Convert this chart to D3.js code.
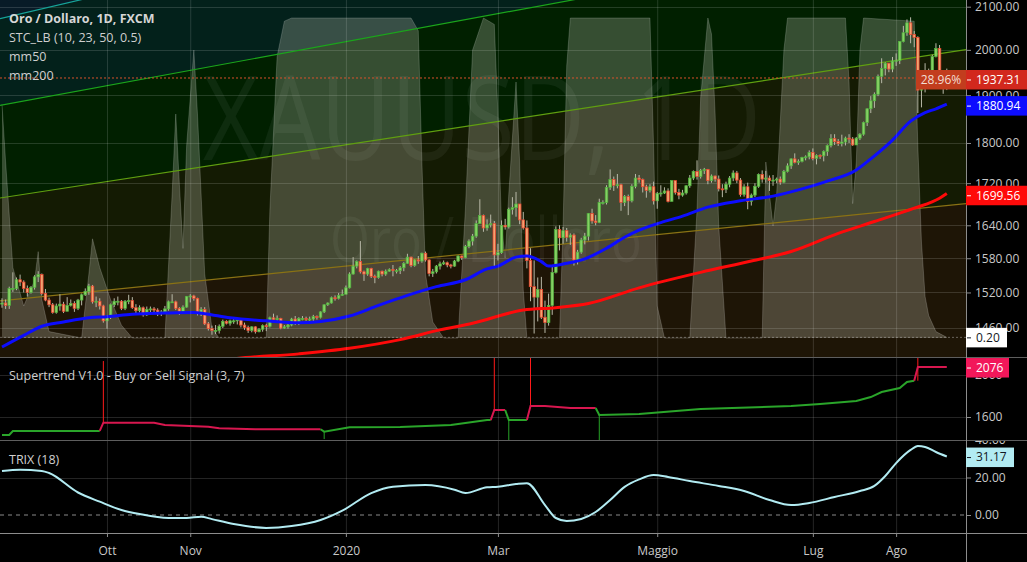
<!DOCTYPE html>
<html>
<head>
<meta charset="utf-8">
<script src="https://cdn.jsdelivr.net/npm/d3@7"></script>
<style>
  body { margin: 0; background: #000; }
  svg { display: block; font-family: 'Open Sans', sans-serif; }
</style>
</head>
<body>
<svg id="chart" width="1027" height="562"></svg>
<script>
// ---------- data ----------
const holidays = ['2020-01-01']
const firstOpen = 1500

const close = [
  1502, 1498, 1527, 1527, 1542, 1538, 1527, 1520,
  1529, 1547, 1551, 1518, 1507, 1499, 1486, 1497, 1500, 1488, 1498, 1501, 1493, 1507, 1516, 1522, 1531, 1504, 1505, 1497, 1472,
  1479, 1499, 1505, 1505, 1493, 1505, 1506, 1494, 1489, 1494, 1482, 1491, 1492, 1490, 1484, 1487, 1492, 1504, 1504, 1493, 1488, 1495, 1513,
  1514, 1510, 1484, 1491, 1467, 1459, 1456, 1456, 1463, 1471, 1468, 1472, 1472, 1474, 1465, 1461, 1456, 1462, 1454, 1458, 1464,
  1463, 1477, 1474, 1476, 1460, 1462, 1465, 1475, 1469, 1476, 1476, 1475, 1475, 1479, 1478, 1487, 1499, 1502, 1511, 1510, 1515, 1517,
  1528, 1552, 1566, 1574, 1556, 1552, 1562, 1548, 1546, 1557, 1552, 1557, 1560, 1558, 1558, 1563, 1571, 1582, 1567, 1577, 1575, 1589,
  1577, 1553, 1556, 1566, 1570, 1572, 1568, 1566, 1575, 1584, 1581, 1601, 1611, 1620, 1643, 1658, 1635, 1641, 1643, 1586,
  1590, 1640, 1637, 1670, 1673, 1680, 1650, 1635, 1576, 1530, 1512, 1525, 1478, 1469, 1498, 1555, 1632, 1617, 1630, 1618, 1622, 1577,
  1591, 1613, 1620, 1662, 1648, 1645, 1683, 1683, 1712, 1727, 1716, 1717, 1683, 1694, 1686, 1714, 1730, 1727, 1713, 1706, 1713, 1686,
  1700, 1701, 1705, 1685, 1725, 1702, 1697, 1701, 1715, 1730, 1743, 1733, 1745, 1747, 1725, 1734, 1728, 1709, 1708, 1718, 1730,
  1740, 1726, 1698, 1713, 1685, 1697, 1714, 1737, 1728, 1730, 1725, 1726, 1728, 1722, 1743, 1754, 1768, 1761, 1763, 1771, 1772, 1781,
  1769, 1775, 1774, 1783, 1795, 1809, 1803, 1799, 1802, 1810, 1808, 1796, 1810, 1818, 1842, 1871, 1888, 1902, 1941, 1958, 1970, 1957, 1975,
  1976, 2019, 2039, 2062, 2035, 2028, 1911, 1915, 1954, 1944, 1985, 2003, 1929, 1946, 1937
]
const high = [
  1510, 1508, 1530, 1555, 1546, 1551, 1541, 1532,
  1531, 1550, 1557, 1553, 1526, 1511, 1502, 1501, 1517, 1504, 1512, 1508, 1505, 1509, 1518, 1527, 1535, 1533, 1513, 1510, 1499,
  1481, 1501, 1510, 1513, 1507, 1507, 1516, 1512, 1500, 1498, 1496, 1496, 1496, 1495, 1493, 1490, 1497, 1506, 1517, 1506, 1495, 1498, 1514,
  1517, 1516, 1511, 1495, 1495, 1470, 1464, 1465, 1466, 1474, 1473, 1474, 1476, 1477, 1475, 1469, 1464, 1463, 1463, 1460, 1466,
  1467, 1479, 1484, 1481, 1477, 1465, 1468, 1477, 1480, 1478, 1480, 1479, 1479, 1482, 1481, 1488, 1500, 1503, 1513, 1515, 1519, 1525,
  1532, 1555, 1582, 1576, 1611, 1558, 1563, 1563, 1551, 1558, 1558, 1560, 1562, 1568, 1561, 1566, 1573, 1588, 1583, 1578, 1584, 1590,
  1592, 1578, 1561, 1568, 1574, 1576, 1574, 1570, 1577, 1585, 1585, 1604, 1614, 1624, 1649, 1689, 1660, 1651, 1660, 1648,
  1606, 1649, 1652, 1673, 1693, 1703, 1675, 1665, 1649, 1598, 1576, 1546, 1547, 1506, 1518, 1567, 1638, 1640, 1637, 1635, 1625, 1625,
  1595, 1617, 1626, 1663, 1671, 1659, 1690, 1687, 1716, 1747, 1733, 1738, 1719, 1697, 1698, 1718, 1738, 1736, 1729, 1717, 1718, 1723,
  1703, 1716, 1712, 1710, 1725, 1722, 1709, 1707, 1716, 1736, 1745, 1765, 1748, 1750, 1748, 1737, 1735, 1735, 1718, 1723, 1734,
  1745, 1744, 1730, 1718, 1721, 1700, 1720, 1739, 1745, 1744, 1735, 1736, 1731, 1733, 1746, 1759, 1769, 1779, 1767, 1772, 1775, 1785,
  1789, 1777, 1777, 1785, 1797, 1818, 1818, 1808, 1817, 1813, 1818, 1812, 1812, 1820, 1844, 1872, 1898, 1906, 1945, 1981, 1972, 1970, 1984,
  1992, 2020, 2055, 2070, 2075, 2043, 2031, 1923, 1970, 1958, 1989, 2015, 2011, 1949, 1958
]
const low = [
  1494, 1492, 1492, 1521, 1524, 1531, 1520, 1513,
  1518, 1525, 1538, 1515, 1505, 1495, 1484, 1484, 1489, 1485, 1488, 1496, 1487, 1490, 1498, 1514, 1516, 1501, 1495, 1491, 1469,
  1459, 1475, 1495, 1498, 1490, 1490, 1500, 1492, 1482, 1486, 1479, 1480, 1484, 1486, 1480, 1480, 1484, 1489, 1502, 1490, 1482, 1484, 1494,
  1503, 1506, 1481, 1480, 1465, 1456, 1449, 1450, 1451, 1460, 1466, 1464, 1467, 1466, 1461, 1457, 1452, 1453, 1451, 1453, 1454,
  1455, 1461, 1471, 1472, 1458, 1459, 1459, 1463, 1465, 1465, 1473, 1472, 1472, 1471, 1474, 1476, 1485, 1497, 1501, 1506, 1508, 1514,
  1517, 1527, 1551, 1562, 1553, 1540, 1549, 1545, 1536, 1544, 1548, 1549, 1556, 1548, 1553, 1552, 1557, 1570, 1564, 1565, 1570, 1572,
  1574, 1548, 1547, 1553, 1560, 1568, 1564, 1562, 1565, 1573, 1577, 1580, 1598, 1603, 1617, 1645, 1628, 1630, 1636, 1563,
  1576, 1588, 1632, 1634, 1660, 1656, 1642, 1632, 1562, 1505, 1451, 1471, 1475, 1452, 1464, 1482, 1553, 1594, 1606, 1610, 1604, 1567,
  1569, 1588, 1605, 1612, 1643, 1640, 1644, 1679, 1679, 1707, 1705, 1710, 1667, 1676, 1659, 1683, 1710, 1721, 1702, 1692, 1702, 1679,
  1671, 1694, 1699, 1683, 1686, 1698, 1689, 1694, 1698, 1711, 1726, 1727, 1729, 1738, 1718, 1721, 1723, 1704, 1693, 1701, 1712,
  1724, 1720, 1694, 1694, 1670, 1677, 1693, 1711, 1721, 1721, 1705, 1715, 1720, 1717, 1720, 1741, 1748, 1759, 1756, 1761, 1765, 1767,
  1765, 1757, 1768, 1763, 1774, 1791, 1796, 1794, 1793, 1795, 1800, 1794, 1796, 1806, 1815, 1835, 1862, 1873, 1898, 1926, 1943, 1950, 1950,
  1964, 1968, 2017, 2032, 2015, 2006, 1862, 1874, 1906, 1934, 1940, 1983, 1926, 1903, 1911
]

// moving averages, sampled at bar indexes
const mm50Idx = [0, 6, 11, 17, 24, 29, 36, 45, 53, 56, 63, 73, 82, 88, 96, 104, 112, 120, 128, 134, 137, 142, 145, 149, 151, 156, 161, 167, 172, 176, 182, 188, 195, 204, 213, 220, 228, 236, 240, 246, 251, 255, 258, 261]
const mm50Val = [1429, 1448, 1463, 1470, 1477, 1479, 1483, 1485, 1486, 1484, 1477, 1472, 1469, 1471, 1480, 1498, 1515, 1530, 1542, 1561, 1566, 1582, 1584, 1574, 1566, 1571, 1579, 1598, 1618, 1631, 1645, 1657, 1674, 1686, 1695, 1707, 1724, 1746, 1768, 1806, 1845, 1863, 1871, 1881]
const mm200Idx = [55, 64, 82, 96, 110, 121, 130, 144, 153, 162, 176, 193, 207, 218, 231, 241, 252, 259, 261]
const mm200Val = [1402, 1410, 1418, 1427, 1441, 1457, 1468, 1490, 1494, 1501, 1528, 1555, 1575, 1592, 1625, 1647, 1672, 1691, 1700]

// STC_LB oscillator (0-100), overlaid on the price pane
const stcIdx = [0, 1, 3, 6, 9, 10, 11, 13, 22, 24, 25, 27, 30, 33, 36, 45, 47, 48, 49, 50, 51, 53, 54, 55, 56, 58, 60, 73, 74, 76, 78, 80, 113, 115, 116, 117, 119, 122, 126, 128, 130, 133, 136, 137, 138, 139, 140, 142, 143, 144, 145, 154, 155, 156, 157, 179, 180, 181, 183, 190, 192, 193, 195, 196, 197, 198, 200, 210, 211, 212, 213, 214, 216, 217, 233, 234, 235, 236, 237, 238, 252, 253, 254, 255, 256, 258, 261]
const stcVal = [73, 55, 22, 10, 18, 27, 12, 2, 0, 20, 31, 22, 12, 4, 0, 0, 45, 70, 48, 28, 60, 90, 70, 45, 20, 3, 0, 0, 40, 88, 99, 100, 100, 96, 55, 20, 5, 0, 0, 40, 90, 100, 98, 70, 35, 25, 45, 80, 55, 15, 0, 0, 35, 85, 100, 100, 60, 10, 0, 0, 40, 75, 100, 95, 70, 35, 0, 0, 55, 45, 35, 45, 90, 100, 100, 80, 42, 55, 90, 100, 99, 60, 30, 13, 7, 2, 0.2]

// Supertrend (3, 7): breakpoints, trend 1 = buy, -1 = sell
const stIdx = [0, 2, 3, 27, 28, 42, 45, 57, 60, 70, 88, 89, 96, 110, 124, 134, 135, 136, 139, 140, 145, 146, 150, 157, 164, 165, 176, 193, 218, 226, 236, 240, 243, 248, 250, 252, 253, 261]
const stVal = [1429, 1429, 1467, 1467, 1546, 1546, 1524, 1508, 1492, 1483, 1483, 1460, 1502, 1505, 1524, 1571, 1571, 1667, 1667, 1571, 1571, 1705, 1705, 1686, 1686, 1619, 1629, 1676, 1705, 1724, 1752, 1790, 1838, 1876, 1933, 1946, 2076, 2076]
const stTrend = [1, 1, 1, 1, -1, -1, -1, -1, -1, -1, -1, 1, 1, 1, 1, 1, 1, -1, -1, 1, 1, -1, -1, -1, -1, 1, 1, 1, 1, 1, 1, 1, 1, 1, 1, 1, -1, -1]
// buy / sell signal spikes
const sigIdx = [28, 89, 136, 140, 146, 165, 253]
const sigFrom = [1546, 1460, 1667, 1571, 1705, 1619, 1946]
const sigTo = [2133, 1390, 2162, 1381, 2162, 1381, 2162]
const sigType = [-1, 1, -1, 1, -1, 1, -1]

// TRIX (18)
const trixIdx = [0, 5, 11, 13, 21, 27, 33, 38, 46, 51, 55, 58, 64, 73, 80, 88, 94, 102, 108, 117, 125, 128, 134, 137, 142, 145, 150, 153, 156, 160, 164, 168, 172, 176, 180, 184, 190, 198, 205, 212, 218, 223, 230, 237, 241, 244, 247, 251, 253, 255, 258, 261]
const trixVal = [23.5, 24.2, 23.5, 22.4, 12, 7.1, 2.7, 0.5, -1.6, -1.6, -0.9, -2.2, -4.8, -6.9, -5.9, -2.7, 2.3, 11.7, 15.1, 16, 13.5, 11.7, 14.8, 15.1, 16.5, 17, 5.3, -1.6, -3.2, -2.1, 1.6, 8, 15, 19, 21.3, 20.3, 18.1, 15.5, 12.8, 8, 5.3, 6.4, 9.6, 12.8, 15.5, 20.8, 27.7, 34.7, 36.8, 36.3, 33.6, 31.2]

// trend-channel drawings: anchor (bar index, price) at both ends
const lineStartIdx = [0, 0, 0, 0]
const lineStartPrice = [2073, 1879, 1692, 1506]
const lineEndIdx = [20, 150, 261, 261]
const lineEndPrice = [2113, 2104, 1994, 1677]

// axes
const tickDates = ['2019-10-01', '2019-11-01', '2020-01-02', '2020-03-02', '2020-05-01', '2020-07-01', '2020-08-03']
const tickLabels = ['Ott', 'Nov', '2020', 'Mar', 'Maggio', 'Lug', 'Ago']
const priceTicks = [1460, 1520, 1580, 1640, 1720, 1800, 1900, 2000, 2100]
const stTicks = [1600, 2000]
const trixTicks = [0, 20, 40]

// last values shown on the scales
const lastPrice = 1937.31
const lastChange = '28.96%'
const mm50Last = 1880.94
const mm200Last = 1699.56
const stcLast = 0.2
const stLast = 2076
const trixLast = 31.17

// ---------- layout / style ----------
const svg = d3.select('#chart')
const W = +svg.attr('width')
const plotR = 966
const mainB = 357, stT = 358, stB = 440, trT = 441, trB = 533
const lineColors = ['#17a49a', '#1ba51b', '#609f10', '#8a7214']
const zoneColors = ['#081b27', '#03211b', '#012000', '#141b03', '#1e1506']
const gridColor = 'rgba(255,255,255,0.14)'
const axisText = '#c9c9c9'

// trading days (weekdays)
const dates = []
for (let t = Date.UTC(2019, 7, 21); t <= Date.UTC(2020, 7, 21); t += 864e5) {
  const d = new Date(t)
  const s = d.toISOString().slice(0, 10)
  if (d.getUTCDay() % 6 !== 0 && !holidays.includes(s)) dates.push(s)
}

// scales
const x = d3.scalePoint().domain(dates).range([2, 946.8])
const xi = (i) => x(dates[i])
const y = d3.scaleLog().domain([1413, 2116]).range([mainB, 0])
const yStc = d3.scaleLinear().domain([0, 100]).range([338, 18])
const ySt = d3.scaleLinear().domain([1381, 2162]).range([stB, stT])
const yTrix = d3.scaleLinear().domain([-9.6, 40]).range([trB, stB])

const defs = svg.append('defs')
const clip = (id, x0, y0, w, h) =>
  defs.append('clipPath').attr('id', id).append('rect').attr('x', x0).attr('y', y0).attr('width', w).attr('height', h)
clip('cMain', 0, 0, plotR, mainB)
clip('cSt', 0, stT, plotR, stB - stT)
clip('cTrix', 0, trT, plotR, trB - trT)
clip('aMain', plotR, 0, W - plotR, mainB)
clip('aSt', plotR, stT, W - plotR, stB - stT)
clip('aTrix', plotR, trT, W - plotR, trB - trT)

svg.append('rect').attr('width', W).attr('height', 562).attr('fill', '#000')

// ---------- main pane ----------
const gMain = svg.append('g').attr('clip-path', 'url(#cMain)')

// channel zones, each fills below its line
const linePx = lineStartIdx.map((s, k) => {
  const x1 = xi(s), y1 = y(lineStartPrice[k])
  const x2 = xi(lineEndIdx[k]), y2 = y(lineEndPrice[k])
  const m = (y2 - y1) / (x2 - x1)
  return { a: y1 - m * x1, b: y1 + (plotR - x1) * m }
})
gMain.append('rect').attr('width', plotR).attr('height', mainB).attr('fill', zoneColors[0])
linePx.forEach((l, k) => {
  gMain.append('path')
    .attr('d', `M0,${l.a}L${plotR},${l.b}L${plotR},${mainB}L0,${mainB}Z`)
    .attr('fill', zoneColors[k + 1])
})

// grid
const gridV = svg.append('g')
tickDates.forEach((d) => {
  gridV.append('line').attr('x1', x(d) + 0.5).attr('x2', x(d) + 0.5).attr('y1', 0).attr('y2', trB)
    .attr('stroke', gridColor)
})
priceTicks.forEach((p) => {
  gMain.append('line').attr('x1', 0).attr('x2', plotR).attr('y1', Math.round(y(p)) + 0.5).attr('y2', Math.round(y(p)) + 0.5)
    .attr('stroke', gridColor)
})

// watermark
gMain.append('text').attr('x', 203).attr('y', 160).attr('font-size', 118)
  .attr('textLength', 558).attr('lengthAdjust', 'spacingAndGlyphs')
  .attr('fill', 'rgba(255,255,255,0.055)').text('XAUUSD, 1D')
gMain.append('text').attr('x', 330).attr('y', 262).attr('font-size', 62)
  .attr('textLength', 312).attr('lengthAdjust', 'spacingAndGlyphs')
  .attr('fill', 'rgba(255,255,255,0.05)').text('Oro / Dollaro')

// STC area
const stc = stcIdx.map((i, k) => ({ i, v: stcVal[k] }))
gMain.append('path').datum(stc)
  .attr('d', d3.area().x((d) => xi(d.i)).y0(yStc(0)).y1((d) => yStc(d.v)))
  .attr('fill', 'rgba(232,232,215,0.23)')
gMain.append('path').datum(stc)
  .attr('d', d3.line().x((d) => xi(d.i)).y((d) => yStc(d.v)))
  .attr('fill', 'none').attr('stroke', 'rgba(255,255,255,0.18)')

// channel lines
linePx.forEach((l, k) => {
  gMain.append('line').attr('x1', 0).attr('y1', l.a).attr('x2', plotR).attr('y2', l.b)
    .attr('stroke', lineColors[k]).attr('stroke-width', 1.2)
})

// STC zero line and last price line
gMain.append('line').attr('x1', 0).attr('x2', plotR).attr('y1', yStc(stcLast)).attr('y2', yStc(stcLast))
  .attr('stroke', 'rgba(200,200,200,0.45)').attr('stroke-dasharray', '2,2')
gMain.append('line').attr('x1', 0).attr('x2', plotR).attr('y1', y(lastPrice)).attr('y2', y(lastPrice))
  .attr('stroke', '#d9502c').attr('stroke-dasharray', '2,2')

// candles
const bars = close.map((c, i) => ({ i, o: i ? close[i - 1] : firstOpen, c, h: high[i], l: low[i] }))
const candles = gMain.append('g').selectAll('g').data(bars).enter().append('g')
candles.append('line')
  .attr('x1', (d) => xi(d.i)).attr('x2', (d) => xi(d.i))
  .attr('y1', (d) => y(Math.max(d.h, d.o, d.c))).attr('y2', (d) => y(Math.min(d.l, d.o, d.c)))
  .attr('stroke', '#b9b9a8').attr('stroke-width', 1)
candles.append('rect')
  .attr('x', (d) => xi(d.i) - 1.3).attr('width', 2.6)
  .attr('y', (d) => y(Math.max(d.o, d.c)))
  .attr('height', (d) => Math.max(1, Math.abs(y(d.o) - y(d.c))))
  .attr('fill', (d) => (d.c >= d.o ? '#86d064' : '#f2a370'))
  .attr('stroke', (d) => (d.c >= d.o ? '#4fb03d' : '#e8412c'))
  .attr('stroke-width', 0.7)

// moving averages
const maLine = d3.line().x((d) => xi(d[0])).y((d) => y(d[1])).curve(d3.curveMonotoneX)
gMain.append('path').datum(mm200Idx.map((i, k) => [i, mm200Val[k]]))
  .attr('d', maLine).attr('fill', 'none').attr('stroke', '#ff0a0a').attr('stroke-width', 3)
gMain.append('path').datum(mm50Idx.map((i, k) => [i, mm50Val[k]]))
  .attr('d', maLine).attr('fill', 'none').attr('stroke', '#0d0dff').attr('stroke-width', 3)

// legend
const legend = svg.append('g').attr('font-size', 12.5)
legend.append('text').attr('x', 9).attr('y', 19).attr('dy', '0.35em').attr('font-weight', 'bold')
  .attr('fill', '#d6d6d6').text('Oro / Dollaro, 1D, FXCM')
;['STC_LB (10, 23, 50, 0.5)', 'mm50', 'mm200'].forEach((t, k) => {
  legend.append('text').attr('x', 9).attr('y', 38 + k * 19).attr('dy', '0.35em').attr('fill', '#cfcfcf').text(t)
})

// ---------- supertrend pane ----------
const gSt = svg.append('g').attr('clip-path', 'url(#cSt)')
stTicks.forEach((v) => {
  gSt.append('line').attr('x1', 0).attr('x2', plotR).attr('y1', Math.round(ySt(v)) + 0.5).attr('y2', Math.round(ySt(v)) + 0.5)
    .attr('stroke', gridColor)
})
sigIdx.forEach((i, k) => {
  gSt.append('line').attr('x1', xi(i)).attr('x2', xi(i)).attr('y1', ySt(sigFrom[k])).attr('y2', ySt(sigTo[k]))
    .attr('stroke', sigType[k] > 0 ? '#27a327' : '#ff1a1a').attr('stroke-width', 1)
})
// split into trend runs; each run starts from the previous run's last point
const stPts = stIdx.map((i, k) => ({ i, v: stVal[k], t: stTrend[k] }))
const runs = []
stPts.forEach((p, k) => {
  if (!k || p.t !== stPts[k - 1].t) runs.push({ t: p.t, pts: k ? [stPts[k - 1]] : [] })
  runs[runs.length - 1].pts.push(p)
})
const stLine = d3.line().x((d) => xi(d.i)).y((d) => ySt(d.v))
runs.forEach((r) => {
  gSt.append('path').datum(r.pts).attr('d', stLine).attr('fill', 'none')
    .attr('stroke', r.t > 0 ? '#2aa52a' : '#d8174f').attr('stroke-width', 2)
})
svg.append('text').attr('x', 9).attr('y', 376).attr('dy', '0.35em').attr('font-size', 12.5)
  .attr('fill', '#cfcfcf').text('Supertrend V1.0 - Buy or Sell Signal (3, 7)')

// ---------- TRIX pane ----------
const gTr = svg.append('g').attr('clip-path', 'url(#cTrix)')
trixTicks.filter((v) => v).forEach((v) => {
  gTr.append('line').attr('x1', 0).attr('x2', plotR).attr('y1', Math.round(yTrix(v)) + 0.5).attr('y2', Math.round(yTrix(v)) + 0.5)
    .attr('stroke', gridColor)
})
gTr.append('line').attr('x1', 0).attr('x2', plotR).attr('y1', yTrix(0)).attr('y2', yTrix(0))
  .attr('stroke', '#8a8a8a').attr('stroke-dasharray', '4,4')
gTr.append('path').datum(trixIdx.map((i, k) => [i, trixVal[k]]))
  .attr('d', d3.line().x((d) => xi(d[0])).y((d) => yTrix(d[1])).curve(d3.curveMonotoneX))
  .attr('fill', 'none').attr('stroke', '#b2ebf2').attr('stroke-width', 2)
svg.append('text').attr('x', 9).attr('y', 460).attr('dy', '0.35em').attr('font-size', 12.5)
  .attr('fill', '#cfcfcf').text('TRIX (18)')

// ---------- separators and axes ----------
const sep = svg.append('g').attr('stroke', '#5e5e5e')
sep.append('line').attr('x1', 0).attr('x2', W).attr('y1', mainB + 0.5).attr('y2', mainB + 0.5)
sep.append('line').attr('x1', 0).attr('x2', W).attr('y1', stB + 0.5).attr('y2', stB + 0.5)
sep.append('line').attr('x1', 0).attr('x2', W).attr('y1', trB + 0.5).attr('y2', trB + 0.5).attr('stroke', '#8c8c8c')
svg.append('line').attr('x1', plotR + 0.5).attr('x2', plotR + 0.5).attr('y1', 0).attr('y2', 562).attr('stroke', '#8c8c8c')

const styleAxis = (g) => {
  g.select('.domain').remove()
  g.selectAll('line').attr('stroke', '#8c8c8c')
  g.selectAll('text').attr('fill', axisText).attr('font-size', 12).attr('font-family', "'Open Sans', sans-serif")
}
// right scales: outer group clips to its pane, inner group is shifted
const rightAxis = (clipId, axis) =>
  svg.append('g').attr('clip-path', `url(#${clipId})`)
    .append('g').attr('transform', `translate(${plotR},0)`)
    .call(axis.tickSize(5).tickPadding(4))
    .call(styleAxis)
rightAxis('aMain', d3.axisRight(y).tickValues(priceTicks).tickFormat(d3.format('.2f')))
rightAxis('aSt', d3.axisRight(ySt).tickValues(stTicks).tickFormat(d3.format('d')))
rightAxis('aTrix', d3.axisRight(yTrix).tickValues(trixTicks).tickFormat(d3.format('.2f')))
svg.append('g').attr('transform', `translate(0,${trB})`)
  .call(d3.axisBottom(x).tickValues(tickDates).tickFormat((d) => tickLabels[tickDates.indexOf(d)]).tickSize(4).tickPadding(9))
  .call(styleAxis)

// value tags on the scales
const tag = (yy, text, bg, fg, w) => {
  const g = svg.append('g')
  g.append('rect').attr('x', plotR).attr('y', yy - 9.5).attr('width', w).attr('height', 19.5).attr('fill', bg)
  g.append('line').attr('x1', plotR + 1).attr('x2', plotR + 5).attr('y1', yy + 0.5).attr('y2', yy + 0.5).attr('stroke', fg)
  g.append('text').attr('x', plotR + 10).attr('y', yy).attr('dy', '0.36em').attr('font-size', 12).attr('fill', fg).text(text)
}
const pY = y(lastPrice) + 1.5
svg.append('rect').attr('x', 916).attr('y', pY - 9.5).attr('width', 50).attr('height', 19.5).attr('fill', '#c23d1e')
svg.append('text').attr('x', 941).attr('y', pY).attr('dy', '0.36em').attr('text-anchor', 'middle')
  .attr('font-size', 12).attr('fill', '#f3dfd4').text(lastChange)
tag(pY, d3.format('.2f')(lastPrice), '#d2281d', '#fff', W - plotR)
tag(y(mm50Last) + 1.5, d3.format('.2f')(mm50Last), '#0d0dff', '#fff', W - plotR)
tag(y(mm200Last) + 1.5, d3.format('.2f')(mm200Last), '#ff0a0a', '#fff', W - plotR)
tag(yStc(stcLast), d3.format('.2f')(stcLast), '#ffffff', '#131722', 41)
tag(ySt(stLast) + 0.5, d3.format('d')(stLast), '#f2175a', '#fff', 43)
tag(yTrix(trixLast) + 0.5, d3.format('.2f')(trixLast), '#b2ebf2', '#131722', 48)
</script>
</body>
</html>
